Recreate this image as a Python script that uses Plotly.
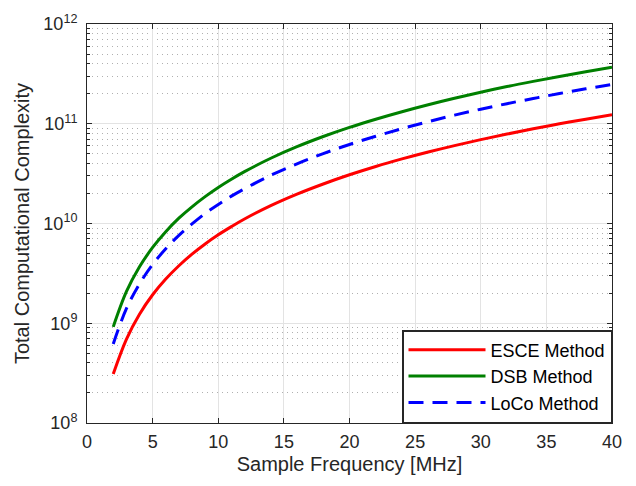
import plotly.graph_objects as go

freq = [2, 3, 4, 5, 6, 7, 8, 9, 10, 11, 12, 14, 16, 18, 20, 22, 24, 26, 28, 30, 32, 34, 36, 38, 40]
esce = [3.1e8, 6.9e8, 1.23e9, 1.93e9, 2.77e9, 3.77e9, 4.93e9, 6.24e9, 7.7e9, 9.3e9, 1.11e10,
        1.51e10, 1.97e10, 2.49e10, 3.08e10, 3.73e10, 4.44e10, 5.21e10, 6.04e10, 6.93e10,
        7.88e10, 8.9e10, 9.98e10, 1.11e11, 1.23e11]
dsb = [9.2e8, 2.07e9, 3.68e9, 5.75e9, 8.28e9, 1.13e10, 1.47e10, 1.86e10, 2.3e10, 2.78e10, 3.31e10,
       4.51e10, 5.89e10, 7.45e10, 9.2e10, 1.11e11, 1.32e11, 1.55e11, 1.8e11, 2.07e11,
       2.36e11, 2.66e11, 2.98e11, 3.32e11, 3.68e11]
loco = [6.2e8, 1.4e9, 2.48e9, 3.88e9, 5.58e9, 7.6e9, 9.9e9, 1.26e10, 1.55e10, 1.88e10, 2.23e10,
        3.04e10, 3.97e10, 5.02e10, 6.2e10, 7.5e10, 8.93e10, 1.05e11, 1.22e11, 1.4e11,
        1.59e11, 1.79e11, 2.01e11, 2.24e11, 2.48e11]

x_ticks = [0, 5, 10, 15, 20, 25, 30, 35, 40]
y_tickvals = [1e8, 1e9, 1e10, 1e11, 1e12]
y_ticktext = ["10<sup>8</sup>", "10<sup>9</sup>", "10<sup>10</sup>", "10<sup>11</sup>", "10<sup>12</sup>"]

font = "Liberation Sans, Arial, sans-serif"
txt = "#262626"

fig = go.Figure()
fig.add_trace(go.Scatter(x=freq, y=esce, mode="lines", name="ESCE Method",
                         line=dict(color="#FF0000", width=3, shape="spline")))
fig.add_trace(go.Scatter(x=freq, y=dsb, mode="lines", name="DSB Method",
                         line=dict(color="#008000", width=3, shape="spline")))
fig.add_trace(go.Scatter(x=freq, y=loco, mode="lines", name="LoCo Method",
                         line=dict(color="#0000FF", width=3, shape="spline", dash="15px,9px")))

fig.update_layout(
    width=636, height=486,
    margin=dict(l=87, r=24, t=17, b=63),
    paper_bgcolor="white", plot_bgcolor="white",
    font=dict(family=font, size=18, color=txt),
    showlegend=True,
    legend=dict(x=1, y=0, xanchor="right", yanchor="bottom",
                bgcolor="white", bordercolor="#262626", borderwidth=1.5,
                font=dict(family=font, size=18, color="#000000"),
                tracegroupgap=0, itemwidth=77),
)
fig.update_xaxes(
    range=[0, 40], tickvals=x_ticks, ticks="inside", ticklen=5, tickcolor=txt,
    showline=True, linecolor="#262626", linewidth=1, mirror="ticks",
    showgrid=True, gridcolor="#E3E3E3", gridwidth=1, zeroline=False,
    title=dict(text="Sample Frequency [MHz]", font=dict(size=20, color=txt), standoff=6),
    tickfont=dict(size=18, color=txt), ticklabelstandoff=2,
)
fig.update_yaxes(
    type="log", range=[8, 12], tickvals=y_tickvals, ticktext=y_ticktext,
    ticks="inside", ticklen=5, tickcolor=txt, ticklabeloverflow="allow",
    ticklabelstandoff=5,
    showline=True, linecolor="#262626", linewidth=1, mirror="ticks",
    showgrid=True, gridcolor="#E3E3E3", gridwidth=1, zeroline=False,
    minor=dict(dtick="D1", ticks="inside", ticklen=3, showgrid=True,
               gridcolor="#B0B0B0", griddash="1px,4px", gridwidth=1, tickcolor=txt),
    title=dict(text="Total Computational Complexity", font=dict(size=20, color=txt), standoff=8),
    tickfont=dict(size=18, color=txt),
)

fig.write_html("out.html", post_script="document.body.style.margin='0';",
               config={"displayModeBar": False})
